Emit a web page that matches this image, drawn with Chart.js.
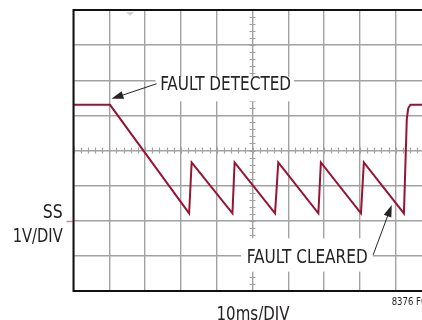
<!DOCTYPE html>
<html>
<head>
<meta charset="utf-8">
<script src="https://cdn.jsdelivr.net/npm/chart.js@4/dist/chart.umd.min.js"></script>
<style>
  html, body { margin: 0; padding: 0; background: #fff; overflow: hidden; }
  #wrap { width: 422px; height: 320px; overflow: hidden; }
  canvas { display: block; }
</style>
</head>
<body>
<div id="wrap"><canvas id="scope" width="440" height="320"></canvas></div>
<script>
// SS pin waveform during a fault: time in ms, voltage in V
const time_ms = [0, 10.2, 32.3, 33.0, 44.4, 45.0, 56.3, 57.2, 68.4, 69.1, 80.3, 81.1, 92.3, 93.1, 93.5, 94.1, 100];
const ss_volts = [3.3, 3.3, 0.21, 1.66, 0.21, 1.66, 0.21, 1.66, 0.21, 1.66, 0.21, 1.66, 0.21, 2.9, 3.2, 3.3, 3.3];

// 10 divisions of 10ms, 8 divisions of 1V
const x_range = [0, 100];
const y_range = [-2, 6];

const traceColor = '#961434';
const gridColor = '#a2a2a2';
const inkColor = '#262324';
const narrow = '"Liberation Sans Narrow", "DejaVu Sans Condensed", "Liberation Sans", sans-serif';

// draw text squeezed/stretched to a given width
function fitText(ctx, text, x, y, width, size, align) {
    ctx.font = size + 'px ' + narrow;
    const w = ctx.measureText(text).width;
    const k = width / w;
    ctx.save();
    let left = x;
    if (align === 'right') left = x - width;
    if (align === 'center') left = x - width / 2;
    ctx.translate(left, y);
    ctx.scale(k, 1);
    ctx.textAlign = 'left';
    ctx.textBaseline = 'alphabetic';
    ctx.fillText(text, 0, 0);
    ctx.restore();
}

function arrow(ctx, x1, y1, x2, y2) {
    const ang = Math.atan2(y2 - y1, x2 - x1);
    const len = 12, half = 4;
    ctx.beginPath();
    ctx.moveTo(x1, y1);
    ctx.lineTo(x2 - Math.cos(ang) * len * 0.8, y2 - Math.sin(ang) * len * 0.8);
    ctx.stroke();
    ctx.beginPath();
    ctx.moveTo(x2, y2);
    ctx.lineTo(x2 - Math.cos(ang) * len - Math.sin(ang) * half, y2 - Math.sin(ang) * len + Math.cos(ang) * half);
    ctx.lineTo(x2 - Math.cos(ang) * len + Math.sin(ang) * half, y2 - Math.sin(ang) * len - Math.cos(ang) * half);
    ctx.closePath();
    ctx.fill();
}

const scopeDecor = {
    id: 'scopeDecor',
    beforeDatasetsDraw(chart) {
        const ctx = chart.ctx;
        const a = chart.chartArea;
        const px = v => chart.scales.x.getPixelForValue(v);
        const py = v => chart.scales.y.getPixelForValue(v);
        ctx.save();

        // minor ticks on the centre cross
        ctx.strokeStyle = gridColor;
        ctx.lineWidth = 1.2;
        const cy = py(2), cx = px(50);
        ctx.beginPath();
        for (let t = 0; t <= 100; t += 2) {
            const p = Math.round(px(t)) + 0.5;
            ctx.moveTo(p, cy - 3); ctx.lineTo(p, cy + 3);
        }
        for (let i = 0; i <= 40; i++) {
            const p = Math.round(py(-2 + i * 0.2)) + 0.5;
            ctx.moveTo(cx - 3, p); ctx.lineTo(cx + 3, p);
        }
        ctx.stroke();

        // trigger marker
        ctx.fillStyle = '#d2d2d2';
        const tx = px(15.8);
        ctx.beginPath();
        ctx.moveTo(tx - 4, a.top + 2);
        ctx.lineTo(tx + 4, a.top + 2);
        ctx.lineTo(tx, a.top + 6);
        ctx.closePath();
        ctx.fill();

        // annotation boxes
        ctx.fillStyle = '#fff';
        ctx.fillRect(px(22.9), py(4.1), px(61.6) - px(22.9), py(3.4) - py(4.1));
        ctx.fillRect(px(46.8), py(-0.5), px(83.6) - px(46.8), py(-1.45) - py(-0.5));

        ctx.fillStyle = inkColor;
        fitText(ctx, 'FAULT DETECTED', px(24.2), py(3.73), 131, 20, 'left');
        fitText(ctx, 'FAULT CLEARED', px(48.4), py(-1.19), 121, 20, 'left');

        ctx.strokeStyle = inkColor;
        ctx.lineWidth = 1;
        arrow(ctx, px(23.2), py(3.9), px(10.6), py(3.47));
        arrow(ctx, px(83.7), py(-0.97), px(88.9), py(0.45));

        // ground marker for the SS trace
        ctx.strokeStyle = '#c98b9c';
        ctx.lineWidth = 1.5;
        ctx.beginPath();
        ctx.moveTo(a.left - 7, Math.round(py(0)) + 0.5);
        ctx.lineTo(a.left - 1, Math.round(py(0)) + 0.5);
        ctx.stroke();
        ctx.restore();
    },
    afterDraw(chart) {
        const ctx = chart.ctx;
        const a = chart.chartArea;
        ctx.save();
        // frame
        ctx.strokeStyle = '#111';
        ctx.lineWidth = 2;
        ctx.beginPath();
        ctx.moveTo(a.right, a.top);
        ctx.lineTo(a.left, a.top);
        ctx.lineTo(a.left, a.bottom);
        ctx.lineTo(a.right, a.bottom);
        ctx.stroke();

        ctx.fillStyle = inkColor;
        fitText(ctx, 'SS', 62.7, 217.7, 20, 19, 'right');
        fitText(ctx, '1V/DIV', 62.7, 242.3, 50, 19, 'right');
        fitText(ctx, '10ms/DIV', 253, 319.5, 73, 19, 'center');
        fitText(ctx, '8376 F01', 391.7, 305, 40, 10, 'left');
        ctx.restore();
    }
};

const scopeChart = new Chart(document.getElementById('scope'), {
    type: 'scatter',
    data: {
        datasets: [{
            label: 'SS',
            data: time_ms.map((t, i) => ({ x: t, y: ss_volts[i] })),
            showLine: true,
            borderColor: traceColor,
            borderWidth: 2,
            pointRadius: 0,
            tension: 0
        }]
    },
    options: {
        responsive: false,
        animation: false,
        layout: {
            padding: { left: 73.5, right: 8.5, top: 10, bottom: 29 }
        },
        plugins: {
            legend: { display: false },
            tooltip: { enabled: false }
        },
        scales: {
            x: {
                type: 'linear',
                min: x_range[0],
                max: x_range[1],
                ticks: { display: false, stepSize: 10 },
                grid: { color: gridColor, lineWidth: 1.4, drawTicks: false },
                border: { display: false }
            },
            y: {
                type: 'linear',
                min: y_range[0],
                max: y_range[1],
                ticks: { display: false, stepSize: 1 },
                grid: { color: gridColor, lineWidth: 1.4, drawTicks: false },
                border: { display: false }
            }
        }
    },
    plugins: [scopeDecor]
});
</script>
</body>
</html>
